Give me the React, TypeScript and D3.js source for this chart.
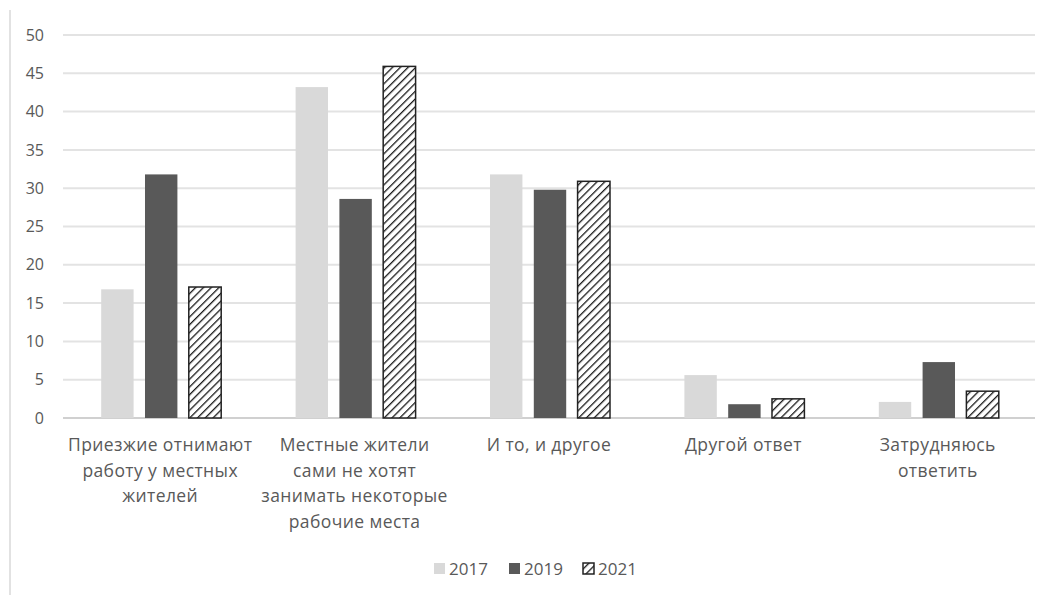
import React from "react";
import * as d3 from "d3";

const categories = [
  "Приезжие отнимают\nработу у местных\nжителей",
  "Местные жители\nсами не хотят\nзанимать некоторые\nрабочие места",
  "И то, и другое",
  "Другой ответ",
  "Затрудняюсь\nответить",
];
const seriesNames = ["2017", "2019", "2021"];
const values2017 = [16.8, 43.2, 31.8, 5.6, 2.1];
const values2019 = [31.8, 28.6, 29.8, 1.8, 7.3];
const values2021 = [17.1, 45.9, 30.9, 2.5, 3.5];
const yTicks = [0, 5, 10, 15, 20, 25, 30, 35, 40, 45, 50];

const W = 1050;
const H = 595;
const left = 63;
const right = 1035;
const top = 35;
const bottom = 418;
const font = "'Open Sans', 'Noto Sans', sans-serif";
const textColor = "#595959";

export default function App() {
  const series = [values2017, values2019, values2021];
  const x = d3.scaleBand<string>().domain(categories).range([left, right]);
  const inner = d3.scaleBand<string>().domain(seriesNames).range([0, 120]).paddingInner(0.26);
  const y = d3.scaleLinear().domain([0, 50]).range([bottom, top]);
  const fills = ["#d9d9d9", "#595959", "url(#hatch)"];

  return (
    <svg width={W} height={H} style={{ position: "absolute", left: 0, top: 0, background: "#fff" }}>
      <defs>
        <pattern id="hatch" patternUnits="userSpaceOnUse" width="5.5" height="5.5" patternTransform="rotate(45)">
          <rect width="5.5" height="5.5" fill="#fff" />
          <line x1="0" y1="0" x2="0" y2="5.5" stroke="#1a1a1a" strokeWidth="2.6" />
        </pattern>
      </defs>
      <line x1={10} x2={10} y1={10} y2={H} stroke="#d9d9d9" strokeWidth={1.5} />
      {yTicks.map((t) => (
        <g key={t}>
          <line x1={left} x2={right} y1={y(t)} y2={y(t)} stroke={t === 0 ? "#d0d0d0" : "#e3e3e3"} strokeWidth={2} />
          <text x={44} y={y(t)} dy="0.35em" textAnchor="end" fontFamily={font} fontSize={16} fill={textColor}>
            {t}
          </text>
        </g>
      ))}
      {categories.map((c, ci) => {
        const x0 = (x(c) as number) + x.bandwidth() / 2 - 59;
        return (
          <g key={c}>
            {series.map((vals, si) => {
              const bx = x0 + (inner(seriesNames[si]) as number);
              const by = y(vals[ci]);
              return (
                <rect
                  key={si}
                  x={bx}
                  y={by}
                  width={inner.bandwidth()}
                  height={bottom - by}
                  fill={fills[si]}
                  stroke={si === 2 ? "#222" : "none"}
                  strokeWidth={si === 2 ? 1.5 : 0}
                />
              );
            })}
            {c.split("\n").map((line, li) => (
              <text
                key={li}
                x={(x(c) as number) + x.bandwidth() / 2}
                y={451 + li * 25.5}
                textAnchor="middle"
                fontFamily={font}
                fontSize={17.5}
                letterSpacing={0.4}
                fill={textColor}
              >
                {line}
              </text>
            ))}
          </g>
        );
      })}
      {seriesNames.map((s, si) => {
        const lx = [434, 509, 583][si];
        return (
          <g key={s}>
            <rect x={lx} y={563} width={11} height={11} fill={fills[si]} stroke={si === 2 ? "#222" : "none"} strokeWidth={1.5} />
            <text x={lx + 15} y={569} dy="0.35em" fontFamily={font} fontSize={17} fill={textColor}>
              {s}
            </text>
          </g>
        );
      })}
    </svg>
  );
}
